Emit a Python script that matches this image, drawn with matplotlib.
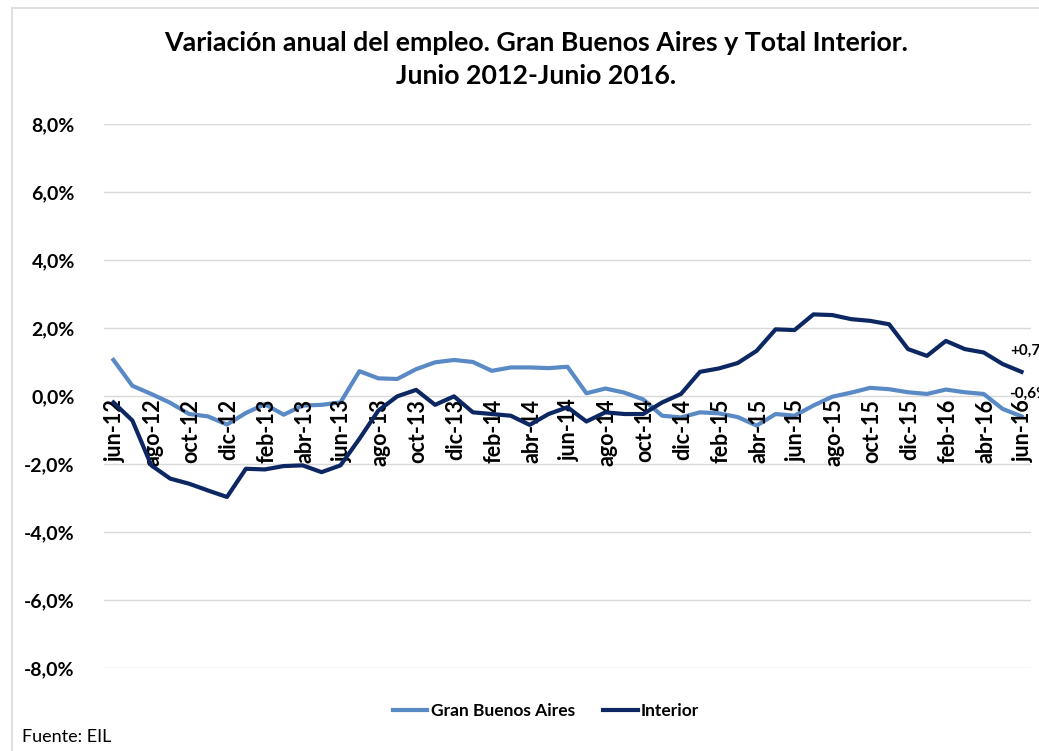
import matplotlib
matplotlib.use("Agg")
import matplotlib.pyplot as plt
from matplotlib.lines import Line2D

plt.rcParams['font.family'] = ['Lato', 'DejaVu Sans']

months = ["jun-12", "jul-12", "ago-12", "sep-12", "oct-12", "nov-12", "dic-12",
          "ene-13", "feb-13", "mar-13", "abr-13", "may-13", "jun-13", "jul-13",
          "ago-13", "sep-13", "oct-13", "nov-13", "dic-13", "ene-14", "feb-14",
          "mar-14", "abr-14", "may-14", "jun-14", "jul-14", "ago-14", "sep-14",
          "oct-14", "nov-14", "dic-14", "ene-15", "feb-15", "mar-15", "abr-15",
          "may-15", "jun-15", "jul-15", "ago-15", "sep-15", "oct-15", "nov-15",
          "dic-15", "ene-16", "feb-16", "mar-16", "abr-16", "may-16", "jun-16"]

gba = [1.06, 0.30, 0.06, -0.20, -0.53, -0.60, -0.84,
       -0.50, -0.24, -0.55, -0.28, -0.26, -0.19, 0.73,
       0.52, 0.50, 0.79, 0.99, 1.06, 1.00, 0.74,
       0.84, 0.84, 0.82, 0.86, 0.08, 0.22, 0.10,
       -0.10, -0.58, -0.63, -0.48, -0.51, -0.62, -0.87,
       -0.53, -0.58, -0.28, -0.02, 0.10, 0.24, 0.20,
       0.11, 0.06, 0.19, 0.11, 0.06, -0.38, -0.60]

interior = [-0.19, -0.72, -2.04, -2.43, -2.58, -2.78, -2.97,
            -2.14, -2.16, -2.06, -2.04, -2.24, -2.04, -1.26,
            -0.43, -0.01, 0.18, -0.26, -0.01, -0.48, -0.53,
            -0.58, -0.85, -0.53, -0.33, -0.75, -0.48, -0.53,
            -0.53, -0.19, 0.06, 0.71, 0.81, 0.97, 1.33,
            1.96, 1.94, 2.40, 2.38, 2.26, 2.21, 2.11,
            1.38, 1.18, 1.62, 1.38, 1.28, 0.94, 0.71]

yticks = [-8, -6, -4, -2, 0, 2, 4, 6, 8]
ytick_labels = ["-8,0%", "-6,0%", "-4,0%", "-2,0%", "0,0%", "2,0%", "4,0%", "6,0%", "8,0%"]
end_labels = ["-0,6%", "+0,7%"]

c_gba = "#5A8AC6"
c_int = "#0C2761"

fig = plt.figure(figsize=(10.39, 7.51), dpi=100)
ax = fig.add_axes([104/1039, 1-668/751, (1031-104)/1039, (668-124)/751])

x = list(range(len(months)))
ax.plot(x, gba, color=c_gba, lw=3, solid_joinstyle='round', zorder=3)
ax.plot(x, interior, color=c_int, lw=3, solid_joinstyle='round', zorder=4)

ax.set_xlim(-0.5, len(months) - 0.5)
ax.set_ylim(-8, 8)
ax.set_yticks(yticks)
ax.set_yticklabels(ytick_labels, fontsize=14, fontweight='bold')
ax.tick_params(axis='y', length=0, pad=21)
ax.set_xticks([])
ax.grid(axis='y', color='#D9D9D9', lw=1)
ax.set_axisbelow(True)
for s in ax.spines.values():
    s.set_visible(False)

for i in range(0, len(months), 2):
    ax.text(i + 0.1, -0.08, months[i], rotation=90, ha='center', va='top',
            fontsize=15.5, fontweight='bold', color='black')

ax.annotate(end_labels[1], (x[-1], interior[-1]), xytext=(-8, 15), textcoords='offset points',
            fontsize=11, fontweight='bold', ha='left', va='center', annotation_clip=False)
ax.annotate(end_labels[0], (x[-1], gba[-1]), xytext=(-9, 16), textcoords='offset points',
            fontsize=11, fontweight='bold', ha='left', va='center', annotation_clip=False)

fig.text(536/1039, 1-43/751, "Variación anual del empleo. Gran Buenos Aires y Total Interior.",
         ha='center', va='center', fontsize=19.3, fontweight='bold')
fig.text(536/1039, 1-76/751, "Junio 2012-Junio 2016.",
         ha='center', va='center', fontsize=19.3, fontweight='bold')

handles = [Line2D([], [], color=c_gba, lw=3), Line2D([], [], color=c_int, lw=3)]
fig.legend(handles, ["Gran Buenos Aires", "Interior"], loc='center',
           bbox_to_anchor=(546/1039, 1-711/751), ncol=2, frameon=False,
           prop={'size': 12.5, 'weight': 'bold'}, handlelength=2.0,
           handletextpad=0.2, columnspacing=1.6)

fig.text(22/1039, 1-737/751, "Fuente: EIL", ha='left', va='center', fontsize=13)

fig.add_artist(Line2D([12/1039, 12/1039], [0, 1-8/751], transform=fig.transFigure,
                      color='#D9D9D9', lw=1.2))
fig.add_artist(Line2D([12/1039, 1], [1-8/751, 1-8/751], transform=fig.transFigure,
                      color='#D9D9D9', lw=1.2))

fig.savefig("out.png", dpi=100)
